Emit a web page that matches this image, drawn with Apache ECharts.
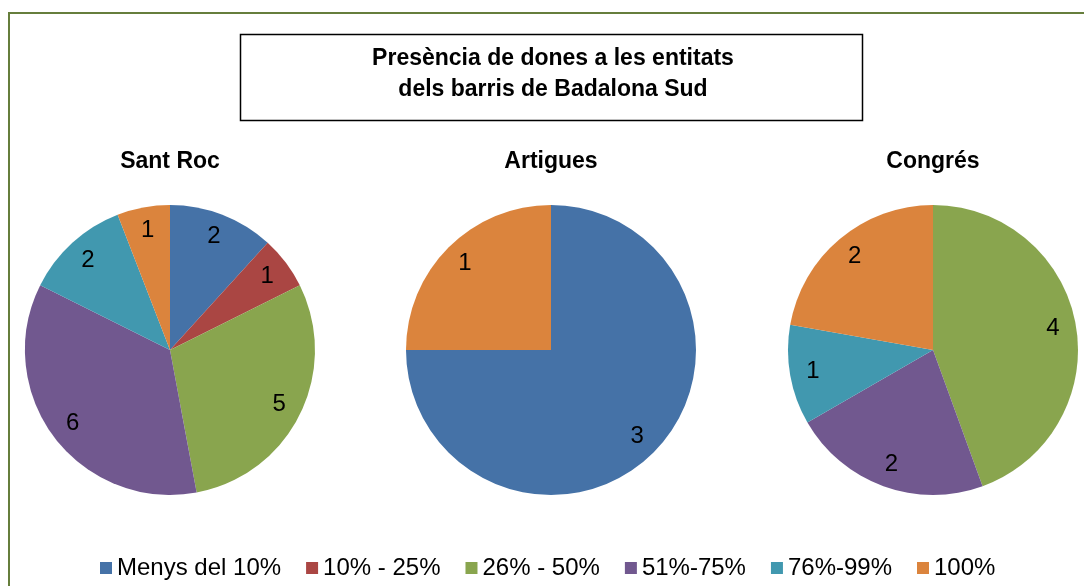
<!DOCTYPE html>
<html>
<head>
<meta charset="utf-8">
<script src="https://cdn.jsdelivr.net/npm/echarts@6/dist/echarts.min.js"></script>
<style>
  html, body { margin: 0; padding: 0; background: #fff; }
  #chart { width: 1084px; height: 586px; }
</style>
</head>
<body>
<div id="chart"></div>
<script>
// Categories: share of women in each neighbourhood's associations
const categories = ['Menys del 10%', '10% - 25%', '26% - 50%', '51%-75%', '76%-99%', '100%'];
const colors = ['#4572A7', '#AA4643', '#89A54E', '#71588F', '#4198AF', '#DB843D'];

// Number of associations per category, by neighbourhood
const neighbourhoods = ['Sant Roc', 'Artigues', 'Congrés'];
const santRoc  = [2, 1, 5, 6, 2, 1];
const artigues = [3, 0, 0, 0, 0, 1];
const congres  = [0, 0, 4, 2, 1, 2];

const values = [santRoc, artigues, congres];
const centersX = [170, 551, 933];
const centerY = 350;
const R = 145;
const FONT = 'Arial, "Liberation Sans", sans-serif';

function items(vals, withLabels) {
  return categories.map((name, i) => ({
    name: name,
    value: vals[i],
    itemStyle: { color: withLabels ? 'rgba(0,0,0,0)' : colors[i] },
    label: { show: withLabels && vals[i] > 0 }
  }));
}

const series = [];
// Filled pies
values.forEach((vals, k) => {
  series.push({
    type: 'pie',
    name: neighbourhoods[k],
    center: [centersX[k], centerY],
    radius: [0, R],
    startAngle: 90,
    clockwise: true,
    animation: false,
    label: { show: false },
    labelLine: { show: false },
    itemStyle: { borderWidth: 0 },
    emphasis: { disabled: true },
    data: items(vals, false)
  });
});
// Transparent outer ring carrying the value labels near the rim
values.forEach((vals, k) => {
  series.push({
    type: 'pie',
    name: neighbourhoods[k] + ' labels',
    center: [centersX[k], centerY],
    radius: [R * 0.64, R],
    startAngle: 90,
    clockwise: true,
    animation: false,
    silent: true,
    legendHoverLink: false,
    label: {
      position: 'inside',
      formatter: '{c}',
      color: '#000',
      fontFamily: FONT,
      fontSize: 24,
      padding: [6, 0, 0, 0]
    },
    labelLine: { show: false },
    itemStyle: { borderWidth: 0 },
    emphasis: { disabled: true },
    data: items(vals, true)
  });
});

const chart = echarts.init(document.getElementById('chart'), null, { renderer: 'canvas' });
chart.setOption({
  animation: false,
  backgroundColor: '#fff',
  color: colors,
  title: [
    {
      text: 'Presència de dones a les entitats\ndels barris de Badalona Sud',
      left: 548, top: 38, textAlign: 'center',
      textStyle: { fontFamily: FONT, fontSize: 23, fontWeight: 'bold', color: '#000', lineHeight: 31 }
    }
  ].concat(neighbourhoods.map((n, k) => ({
    text: n,
    left: centersX[k] - 5, top: 145, textAlign: 'center',
    textStyle: { fontFamily: FONT, fontSize: 23, fontWeight: 'bold', color: '#000' }
  }))),
  legend: {
    data: categories,
    top: 551,
    left: 95,
    icon: 'rect',
    itemWidth: 12,
    itemHeight: 12,
    itemGap: 25,
    textStyle: { fontFamily: FONT, fontSize: 24, color: '#000' },
    selectedMode: false
  },
  graphic: [
    {
      type: 'rect',
      shape: { x: 9, y: 13, width: 1100, height: 600 },
      style: { fill: 'none', stroke: '#667E3C', lineWidth: 2 },
      silent: true
    },
    {
      type: 'rect',
      shape: { x: 240.5, y: 34.5, width: 622, height: 86 },
      style: { fill: 'none', stroke: '#000', lineWidth: 1.5 },
      silent: true
    }
  ],
  series: series
});
</script>
</body>
</html>
